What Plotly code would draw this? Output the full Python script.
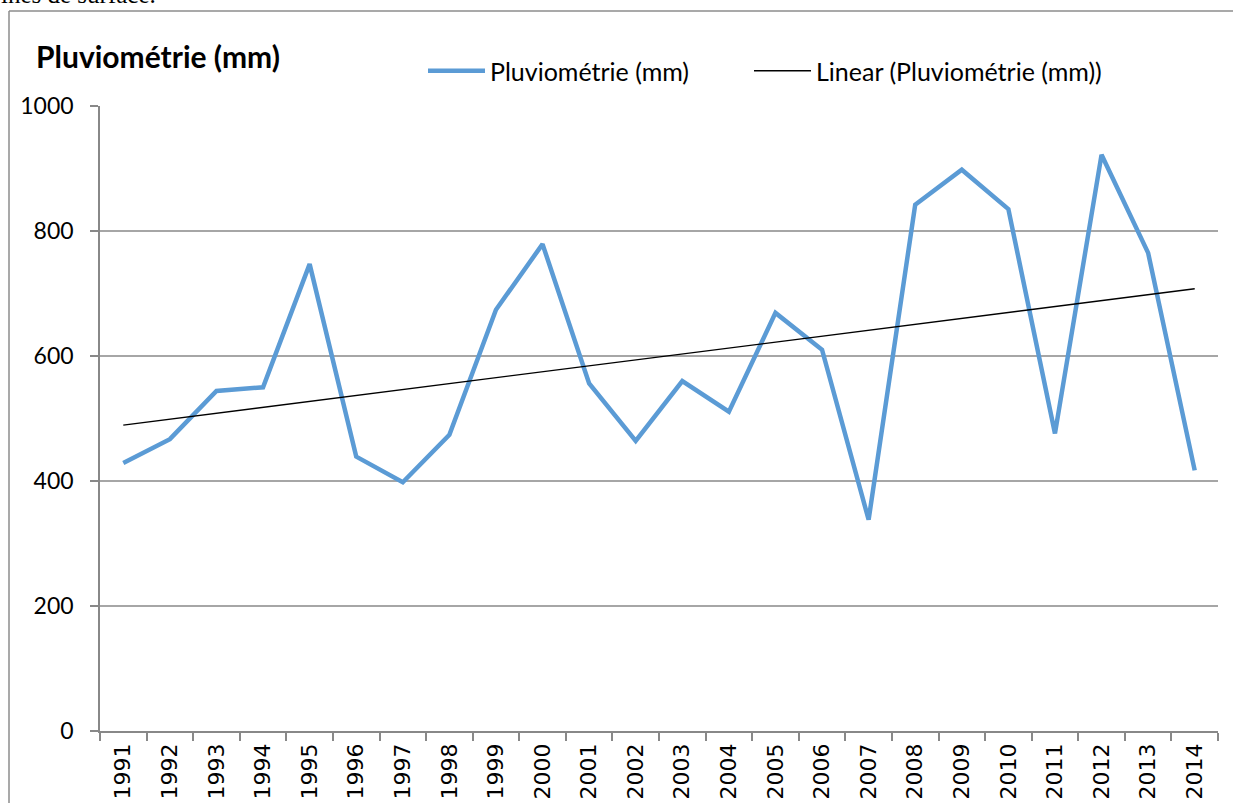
import numpy as np
import plotly.graph_objects as go

years = [str(y) for y in range(1991, 2015)]
pluvio = [429, 467, 544, 550, 747, 439, 398, 474, 674, 779, 556, 464,
          560, 511, 669, 610, 338, 842, 898, 835, 476, 922, 765, 417]
y_ticks = [0, 200, 400, 600, 800, 1000]

idx = np.arange(len(pluvio))
slope, intercept = np.polyfit(idx, pluvio, 1)
trend = (slope * idx + intercept).tolist()

W, H = 1233, 803
ml, mr, mt, mb = 100, 15, 106, 72
pw, ph = W - ml - mr, H - mt - mb

def px(x):
    return (x - ml) / pw

def py(y):
    return (H - mb - y) / ph

fig = go.Figure()
fig.add_trace(go.Scatter(x=years, y=pluvio, mode="lines", name="Pluviométrie (mm)",
                         line=dict(color="#5B9BD5", width=4.5), legend="legend"))
fig.add_trace(go.Scatter(x=years, y=trend, mode="lines", name="Linear (Pluviométrie (mm))",
                         line=dict(color="#000000", width=1.3), legend="legend2"))

leg_common = dict(orientation="h", xanchor="left", yanchor="middle",
                  font=dict(family="Lato", size=25, color="#000000"),
                  itemwidth=57, bgcolor="rgba(0,0,0,0)")

fig.update_layout(
    width=W, height=H,
    margin=dict(l=ml, r=mr, t=mt, b=mb, pad=0, autoexpand=False),
    paper_bgcolor="white", plot_bgcolor="white",
    font=dict(family="Lato", size=23, color="#000000"),
    title=dict(text="<b>Pluviométrie (mm)</b>", x=36 / W, xanchor="left", xref="container",
               y=1 - 57 / H, yanchor="middle", yref="container",
               font=dict(family="Lato", size=30, color="#000000")),
    showlegend=True,
    legend=dict(x=px(423), y=py(71), **leg_common),
    legend2=dict(x=px(749), y=py(71), **leg_common),
    xaxis=dict(type="category", tickson="boundaries", ticks="outside", ticklen=8,
               tickcolor="#888888", tickwidth=1.5, showline=True, linecolor="#888888",
               linewidth=1.5, showgrid=False, tickangle=-90, automargin=False,
               ticklabelstandoff=2,
               tickfont=dict(family="DejaVu Sans", size=22, color="#000000"),
               range=[-0.5, len(years) - 0.5], fixedrange=True),
    yaxis=dict(range=[0, 1000], tickvals=y_ticks, ticks="outside", ticklen=8,
               tickcolor="#888888", tickwidth=1.5, showline=True, linecolor="#888888",
               linewidth=1.5, showgrid=True, gridcolor="#A6A6A6", gridwidth=1.5,
               zeroline=False, ticklabelstandoff=12, automargin=False,
               tickfont=dict(family="Lato", size=23, color="#000000")),
)

# outer chart frame (document chart border)
fig.add_shape(type="line", xref="paper", yref="paper", x0=px(9), x1=px(9), y0=py(830), y1=py(11),
              line=dict(color="#8C8C8C", width=1.5))
fig.add_shape(type="line", xref="paper", yref="paper", x0=px(9), x1=px(1240), y0=py(11), y1=py(11),
              line=dict(color="#8C8C8C", width=1.5))

# cut-off line of document text above the chart
fig.add_annotation(text="ines de surface.", xref="paper", yref="paper", x=px(-1), y=py(10),
                   xanchor="left", yanchor="bottom", showarrow=False,
                   font=dict(family="Liberation Serif", size=25, color="#000000"))

fig.write_html("out.html", config={"displayModeBar": False},
               post_script="document.body.style.margin='0';")
